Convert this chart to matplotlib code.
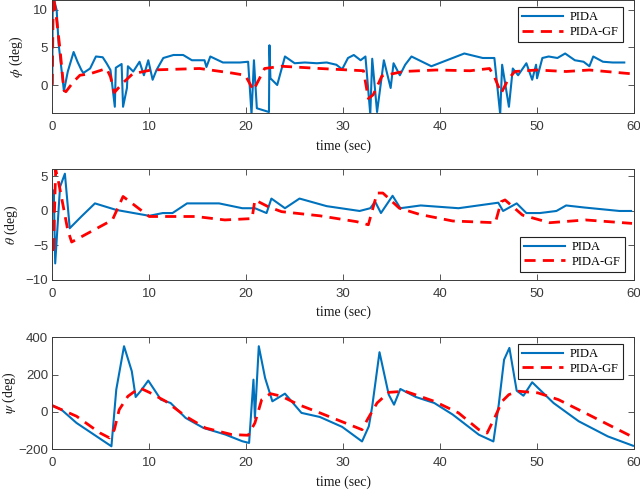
import matplotlib
matplotlib.use("Agg")
import matplotlib.pyplot as plt

plt.rcParams['mathtext.fontset'] = 'stix'
plt.rcParams['font.family'] = ['Liberation Sans', 'DejaVu Sans']

# ---------------- data ----------------
phi_t_pida = [0, 0.05, 0.25, 0.45, 0.65, 1.2, 1.6, 2.2, 2.6, 3.0, 3.2, 3.9, 4.5, 5.2, 5.6, 6.0,
              6.45, 6.55, 7.15, 7.3, 7.7, 7.8, 8.35, 9.0, 9.45, 9.9, 10.35, 10.75, 11.45, 12.5,
              13.5, 14.4, 15.7, 15.9, 16.3, 17.6, 19.35, 20.2, 20.55, 20.8, 21.1, 22.35, 22.4,
              22.5, 23.2, 24.0, 25.0, 26.05, 27.3, 28.3, 29.3, 29.9, 30.5, 31.1, 31.8, 32.3,
              32.8, 33.0, 33.5, 34.2, 34.9, 35.2, 35.85, 36.4, 37.05, 39.1, 42.5, 44.4, 45.6,
              46.2, 46.4, 47.1, 47.5, 48.05, 48.9, 49.5, 49.9, 50.0, 50.55, 51.2, 52.1, 52.9,
              53.9, 54.8, 55.4, 55.8, 56.8, 57.8, 59.0]
phi_pida = [0.3, 12.5, 11.0, 10.0, 5.5, -0.8, 1.8, 4.4, 3.1, 2.0, 1.6, 2.2, 3.8, 3.7, 2.9, 2.0,
            -2.9, 2.3, 2.8, -2.9, -0.4, 2.5, 1.8, 3.1, 1.3, 3.3, 0.7, 2.0, 3.6, 4.0,
            4.0, 3.3, 3.3, 2.4, 3.8, 3.0, 3.0, 3.1, -3.9, 3.3, -3.1, -3.6, 5.3,
            0.9, 0.0, 3.8, 2.9, 3.0, 2.9, 3.0, 2.7, 2.1, 3.6, 4.0, 3.3, 3.8,
            -3.9, 3.5, -3.6, 3.3, -0.4, 2.9, 1.3, 2.7, 3.8, 2.5, 4.2, 3.6, 3.6,
            -3.9, 2.7, -2.9, 2.2, 1.3, 2.9, 0.7, 2.7, 0.9, 3.6, 3.8, 3.6, 4.2,
            3.3, 3.1, 2.5, 3.8, 3.1, 3.0, 3.0]

phi_t_gf = [0, 0.1, 0.45, 0.8, 1.2, 1.4, 2.2, 2.85, 3.9, 5.6, 6.0, 6.4, 7.3, 8.3, 10.2, 15.2,
            18.5, 19.9, 20.75, 21.9, 23.65, 27.6, 32.1, 32.6, 33.1, 34.0, 36.2, 39.6, 43.1,
            45.1, 45.6, 46.3, 47.0, 47.7, 50.0, 53.0, 55.4, 59.7]
phi_gf = [0.0, 12.0, 8.7, 4.7, -0.7, -0.9, 0.45, 1.3, 1.5, 2.2, 1.1, -1.0, 0.3, 1.5, 2.0, 2.2,
          1.6, 1.3, -0.7, 2.2, 2.5, 2.2, 1.9, -1.8, -1.3, 1.2, 1.8, 2.0, 1.9,
          2.2, 1.1, -1.1, 0.7, 1.8, 2.0, 1.8, 2.0, 1.5]

th_t_pida = [0, 0.15, 0.3, 0.8, 1.3, 1.8, 3.0, 4.4, 6.6, 10.0, 11.4, 12.4, 13.9, 17.2, 19.6,
             20.9, 22.1, 22.6, 24.0, 25.5, 28.3, 31.7, 32.8, 33.3, 33.9, 35.1, 35.9, 38.0,
             41.9, 46.0, 46.5, 47.9, 48.9, 50.3, 52.0, 53.0, 54.9, 58.5, 59.7]
th_pida = [0.0, 3.0, -7.6, 3.5, 5.4, -2.5, -0.8, 1.1, 0.15, -0.7, -0.3, -0.3, 1.1, 1.1, 0.4,
           0.4, -0.3, 1.8, 0.4, 1.8, 0.7, 0.0, 0.4, 1.35, -0.3, 2.2, 0.4, 0.8,
           0.4, 1.2, 0.0, 1.1, -0.3, -0.3, 0.0, 0.8, 0.5, 0.0, 0.0]

th_t_gf = [0, 0.1, 0.35, 0.6, 0.8, 1.6, 2.0, 6.2, 7.3, 10.0, 14.8, 17.8, 20.6, 20.9, 22.3,
           23.65, 27.6, 31.4, 32.6, 33.5, 34.1, 35.8, 37.9, 41.3, 45.7, 46.3, 46.7, 48.5,
           51.3, 55.0, 59.8]
th_gf = [-4.2, -6.2, 6.0, 4.5, 3.1, -2.8, -4.5, -1.3, 2.1, -0.8, -0.8, -1.3, -1.1, 1.6, 0.6,
         -0.1, -0.7, -1.55, -2.0, 2.6, 2.6, 0.4, -0.5, -1.45, -1.7, 1.35, 1.6, -0.6,
         -1.7, -1.3, -1.8]

psi_t_pida = [0, 0.95, 2.5, 6.1, 6.6, 7.4, 8.2, 8.6, 9.1, 9.9, 11.2, 12.2, 13.75, 15.6, 17.85,
              19.6, 20.3, 20.75, 20.9, 21.3, 21.95, 22.7, 24.0, 25.7, 27.6, 29.9, 31.95,
              32.65, 33.0, 33.75, 34.7, 35.25, 35.9, 37.5, 39.4, 41.3, 44.0, 45.5, 46.05,
              46.6, 47.15, 47.9, 48.6, 49.5, 51.7, 54.3, 57.3, 59.9]
psi_pida = [34, 12, -59, -184, 120, 352, 218, 80, 111, 168, 66, 48, -32, -86, -121,
            -157, -166, 173, -32, 352, 182, 57, 98, -5, -27, -80, -158,
            -77, 30, 320, 93, 39, 123, 80, 48, -14, -122, -158, 39,
            280, 343, 114, 87, 159, 48, -50, -131, -181]

psi_t_gf = [0, 2.5, 4.9, 5.9, 6.4, 6.9, 7.8, 9.0, 10.0, 11.7, 13.75, 15.8, 18.5, 20.2, 20.9,
            21.6, 22.5, 23.65, 25.4, 27.6, 31.95, 32.5, 33.5, 34.7, 36.4, 39.4, 41.9, 44.0,
            44.85, 45.7, 46.4, 47.1, 48.1, 50.1, 52.2, 54.95, 57.35, 59.75]
psi_gf = [34, -23, -112, -139, -95, 12, 84, 129, 105, 57, -23, -86, -121, -125, -59,
          66, 98, 84, 39, -5, -95, -41, 48, 105, 111, 57, -5, -95,
          -113, -23, 57, 93, 111, 102, 66, -5, -68, -131]

x_ticks = [0, 10, 20, 30, 40, 50, 60]
series_names = ['PIDA', 'PIDA-GF']

panels = [
    dict(tp=phi_t_pida, yp=phi_pida, tg=phi_t_gf, yg=phi_gf, ylabel=r'$\phi$ (deg)',
         ylim=(-3.77, 11.33), yticks=[0, 5, 10],
         pos=[0.0817, 0.7688, 0.9089, 0.2312], leg_loc='upper right', leg_anchor=(0.981, 0.938),
         ylab_x=-0.047),
    dict(tp=th_t_pida, yp=th_pida, tg=th_t_gf, yg=th_gf, ylabel=r'$\theta$ (deg)',
         ylim=(-10, 6.04), yticks=[-10, -5, 0, 5],
         pos=[0.0817, 0.4286, 0.9089, 0.2259], leg_loc='lower right', leg_anchor=(0.9845, 0.072),
         ylab_x=-0.0555),
    dict(tp=psi_t_pida, yp=psi_pida, tg=psi_t_gf, yg=psi_gf, ylabel=r'$\psi$ (deg)',
         ylim=(-200, 400), yticks=[-200, 0, 200, 400],
         pos=[0.0817, 0.0831, 0.9089, 0.2286], leg_loc='upper right', leg_anchor=(0.981, 0.940),
         ylab_x=-0.059),
]

fig = plt.figure(figsize=(6.4, 4.9), dpi=100)
frame_col = '#3a3a3a'
blue = '#0072BD'
red = '#FF0000'

for p in panels:
    ax = fig.add_axes(p['pos'])
    ax.plot(p['tp'], p['yp'], color=blue, lw=1.5, label=series_names[0])
    ax.plot(p['tg'], p['yg'], color=red, lw=2.0, ls=(0, (4, 2.6)), label=series_names[1])
    ax.set_xlim(0, 60)
    ax.set_ylim(*p['ylim'])
    ax.set_xticks(x_ticks)
    ax.set_yticks(p['yticks'])
    ax.tick_params(direction='in', length=4, width=0.6, colors=frame_col, labelsize=9.5,
                   top=True, right=True)
    ax.tick_params(axis='x', pad=5.5)
    ax.tick_params(axis='y', pad=3)
    for sp in ax.spines.values():
        sp.set_color(frame_col)
        sp.set_linewidth(0.7)
    ax.set_xlabel('time (sec)', fontsize=10, family='Liberation Serif', color='#1a1a1a',
                  labelpad=4.5)
    ax.set_ylabel(p['ylabel'], fontsize=10, family='Liberation Serif', color='#1a1a1a')
    ax.yaxis.set_label_coords(p['ylab_x'], 0.5)
    leg = ax.legend(loc=p['leg_loc'], bbox_to_anchor=p['leg_anchor'], borderaxespad=0,
                    prop={'family': 'Liberation Serif', 'size': 9}, fancybox=False,
                    handlelength=3.3, handletextpad=0.5, borderpad=0.35, labelspacing=0.2,
                    framealpha=1)
    leg.get_frame().set_edgecolor('#222222')
    leg.get_frame().set_linewidth(0.8)

fig.savefig('out.png', dpi=100)
